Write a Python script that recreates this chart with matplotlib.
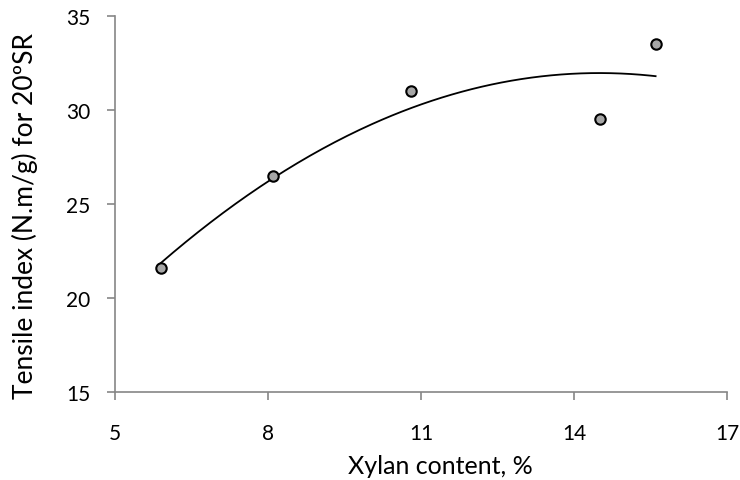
import numpy as np
import matplotlib
matplotlib.use("Agg")
import matplotlib.pyplot as plt

plt.rcParams['font.family'] = ['Lato', 'DejaVu Sans']

xylan = [5.9, 8.1, 10.8, 14.5, 15.6]
tensile = [21.6, 26.5, 31.0, 29.5, 33.5]
xticks = [5, 8, 11, 14, 17]
yticks = [15, 20, 25, 30, 35]

W, H = 740, 481
fig = plt.figure(figsize=(W / 100, H / 100), dpi=100)
ax = fig.add_axes([115/W, 1 - 393/H, (727 - 115)/W, (393 - 17)/H])

# Excel-style 2nd order polynomial trendline
coef = np.polyfit(xylan, tensile, 2)
xs = np.linspace(min(xylan), max(xylan), 200)
ax.plot(xs, np.polyval(coef, xs), color='black', lw=1.3, zorder=2)

ax.plot(xylan, tensile, linestyle='none', marker='o', markersize=7.5,
        markerfacecolor='#A6A6A6', markeredgecolor='black', markeredgewidth=1.5, zorder=3)

ax.set_xlim(5, 17)
ax.set_ylim(15, 35)
ax.set_xticks(xticks)
ax.set_yticks(yticks)
ax.set_xticklabels([str(t) for t in xticks])
ax.set_yticklabels([str(t) for t in yticks])

for s in ['top', 'right']:
    ax.spines[s].set_visible(False)
for s in ['left', 'bottom']:
    ax.spines[s].set_color('#868686')
    ax.spines[s].set_linewidth(1.2)
ax.tick_params(axis='both', direction='out', length=6, width=1.2, color='#868686',
               labelsize=15, labelcolor='black')
ax.tick_params(axis='x', pad=16)
ax.tick_params(axis='y', pad=11.5)

fig.text(440/W, 1 - 474/H, 'Xylan content, %', fontsize=18, ha='center', va='baseline')
fig.text(25/W, 1 - 216/H, 'Tensile index (N.m/g) for 20ºSR', fontsize=19,
         rotation=90, ha='center', va='center')

fig.savefig('out.png', dpi=100)
